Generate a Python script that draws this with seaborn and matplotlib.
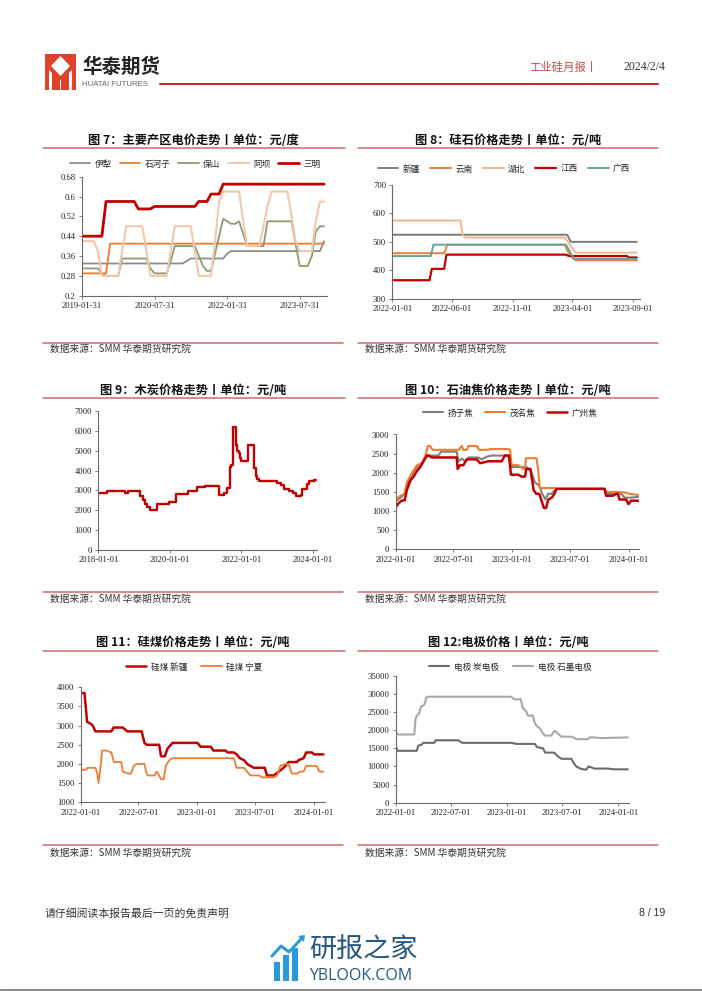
import pandas as pd
import matplotlib.pyplot as plt
import seaborn as sns
from matplotlib.lines import Line2D
from matplotlib.patches import Rectangle, Polygon

W, H = 702, 991
CJK = ['Noto Sans CJK SC', 'DejaVu Sans']
SERIF = 'Liberation Serif'

# ---- 图7 主要产区电价 (monthly, month end) ----
power_months = pd.date_range('2019-01-31', periods=61, freq='ME')
power_yili = [0.33, 0.33, 0.33, 0.33, 0.33, 0.33, 0.33, 0.33, 0.33, 0.33, 0.33, 0.33,
              0.33, 0.33, 0.33, 0.33, 0.33, 0.33, 0.33, 0.33, 0.33, 0.33, 0.33, 0.33,
              0.33, 0.33, 0.34, 0.35, 0.35, 0.35, 0.35, 0.35, 0.35, 0.35, 0.35, 0.35,
              0.37, 0.38, 0.38, 0.38, 0.38, 0.38, 0.38, 0.38, 0.38, 0.38, 0.38, 0.38,
              0.38, 0.38, 0.38, 0.38, 0.38, 0.38, 0.38, 0.38, 0.38, 0.38, 0.38, 0.38,
              0.42]
power_shz = [0.29, 0.29, 0.29, 0.29, 0.29, 0.29, 0.29, 0.41, 0.41, 0.41, 0.41, 0.41,
             0.41, 0.41, 0.41, 0.41, 0.41, 0.41, 0.41, 0.41, 0.41, 0.41, 0.41, 0.41,
             0.41, 0.41, 0.41, 0.41, 0.41, 0.41, 0.41, 0.41, 0.41, 0.41, 0.41, 0.41,
             0.41, 0.41, 0.41, 0.41, 0.41, 0.41, 0.41, 0.41, 0.41, 0.41, 0.41, 0.41,
             0.41, 0.41, 0.41, 0.41, 0.41, 0.41, 0.41, 0.41, 0.41, 0.41, 0.41, 0.41,
             0.41]
power_baoshan = [0.31, 0.31, 0.31, 0.31, 0.31, 0.29, 0.28, 0.28, 0.28, 0.28, 0.35, 0.35,
                 0.35, 0.35, 0.35, 0.35, 0.35, 0.31, 0.29, 0.29, 0.29, 0.29, 0.34, 0.40,
                 0.40, 0.40, 0.40, 0.40, 0.40, 0.36, 0.32, 0.30, 0.30, 0.37, 0.44, 0.51,
                 0.50, 0.49, 0.49, 0.50, 0.45, 0.40, 0.40, 0.40, 0.40, 0.40, 0.50, 0.50,
                 0.50, 0.50, 0.50, 0.50, 0.50, 0.41, 0.32, 0.32, 0.32, 0.36, 0.46, 0.48,
                 0.48]
power_aba = [0.42, 0.42, 0.42, 0.42, 0.38, 0.28, 0.28, 0.28, 0.28, 0.28, 0.38, 0.48,
             0.48, 0.48, 0.48, 0.48, 0.38, 0.28, 0.28, 0.28, 0.28, 0.28, 0.38, 0.48,
             0.48, 0.48, 0.48, 0.48, 0.38, 0.28, 0.28, 0.28, 0.28, 0.42, 0.58, 0.62,
             0.62, 0.62, 0.62, 0.62, 0.50, 0.40, 0.40, 0.40, 0.40, 0.48, 0.56, 0.62,
             0.62, 0.62, 0.62, 0.62, 0.52, 0.42, 0.38, 0.38, 0.38, 0.38, 0.50, 0.58,
             0.58]
power_sanming = [0.44, 0.44, 0.44, 0.44, 0.44, 0.44, 0.58, 0.58, 0.58, 0.58, 0.58, 0.58,
                 0.58, 0.58, 0.55, 0.55, 0.55, 0.55, 0.56, 0.56, 0.56, 0.56, 0.56, 0.56,
                 0.56, 0.56, 0.56, 0.56, 0.56, 0.58, 0.58, 0.58, 0.61, 0.61, 0.61, 0.65,
                 0.65, 0.65, 0.65, 0.65, 0.65, 0.65, 0.65, 0.65, 0.65, 0.65, 0.65, 0.65,
                 0.65, 0.65, 0.65, 0.65, 0.65, 0.65, 0.65, 0.65, 0.65, 0.65, 0.65, 0.65,
                 0.65]

# ---- 图8 硅石价格 ----
silica_xj_dates = ['2022-01-01', '2023-03-19', '2023-03-28', '2023-09-11']
silica_xj = [525, 525, 500, 500]
silica_yn_dates = ['2022-01-01', '2022-05-12', '2022-05-20', '2023-03-13', '2023-03-24', '2023-04-09', '2023-09-11']
silica_yn = [460, 460, 490, 490, 455, 435, 435]
silica_hb_dates = ['2022-01-01', '2022-06-22', '2022-06-28', '2022-07-04', '2023-03-13', '2023-04-09', '2023-09-11']
silica_hb = [575, 575, 525, 515, 515, 462, 462]
silica_jx_dates = ['2022-01-01', '2022-04-05', '2022-04-11', '2022-05-12', '2022-05-18', '2023-03-15',
                   '2023-03-24', '2023-08-17', '2023-08-21', '2023-09-11']
silica_jx = [365, 365, 405, 405, 455, 455, 450, 450, 445, 445]
silica_gx_dates = ['2022-01-01', '2022-04-08', '2022-04-15', '2023-03-16', '2023-04-05', '2023-09-11']
silica_gx = [450, 450, 490, 490, 440, 440]

# ---- 图9 木炭价格 (step changes) ----
charcoal_dates = ['2018-01-01', '2018-04-01', '2018-10-01', '2018-10-28', '2019-03-01', '2019-04-07',
                  '2019-04-24', '2019-05-18', '2019-06-14', '2019-08-25', '2019-12-26', '2020-03-04',
                  '2020-07-01', '2020-10-05', '2020-12-29', '2021-05-15', '2021-07-05', '2021-08-12',
                  '2021-09-05', '2021-09-22', '2021-10-12', '2021-11-05', '2021-11-15', '2021-12-06',
                  '2021-12-20', '2022-01-02', '2022-03-15', '2022-05-08', '2022-06-01', '2022-06-15',
                  '2022-06-29', '2023-01-03', '2023-02-16', '2023-03-12', '2023-05-02', '2023-06-12',
                  '2023-07-16', '2023-09-02', '2023-09-16', '2023-11-03', '2023-11-23', '2024-01-17',
                  '2024-02-06']
charcoal = [2850, 2950, 2850, 2950, 2700, 2500, 2300, 2150, 2000, 2300, 2400, 2800,
            2950, 3150, 3200, 2750, 2850, 3100, 4200, 4300, 6200, 5300, 5000, 4900,
            4650, 4500, 5300, 4150, 3750, 3600, 3500, 3350, 3250, 3050, 2950, 2850,
            2700, 2750, 3050, 3300, 3500, 3550, 3550]

# ---- 图10 石油焦价格 ----
coke_yz_dates = ['2022-01-01', '2022-01-16', '2022-01-29', '2022-02-05', '2022-02-21', '2022-03-09',
                 '2022-03-24', '2022-04-04', '2022-04-14', '2022-05-15', '2022-05-23', '2022-07-11',
                 '2022-07-17', '2022-07-27', '2022-08-06', '2022-08-17', '2022-09-17', '2022-09-27',
                 '2022-10-13', '2022-10-29', '2022-12-20', '2022-12-28', '2023-02-15', '2023-02-28',
                 '2023-03-13', '2023-03-28', '2023-04-05', '2023-04-15', '2023-04-23', '2023-05-04',
                 '2023-05-19', '2023-10-17', '2023-10-22', '2023-12-08', '2023-12-19', '2024-01-08',
                 '2024-01-30']
coke_yz = [1250, 1350, 1450, 1700, 1950, 2150, 2250, 2400, 2450, 2450, 2550, 2550,
           2300, 2370, 2300, 2400, 2400, 2350, 2420, 2450, 2450, 2150, 2150, 2050,
           1750, 1650, 1450, 1300, 1450, 1450, 1580, 1580, 1450, 1450, 1350, 1350, 1370]
coke_mm_dates = ['2022-01-01', '2022-01-16', '2022-01-29', '2022-02-05', '2022-02-21', '2022-03-09',
                 '2022-03-24', '2022-04-04', '2022-04-12', '2022-04-19', '2022-04-26', '2022-07-17',
                 '2022-07-22', '2022-07-27', '2022-08-01', '2022-08-12', '2022-08-17', '2022-09-12',
                 '2022-09-19', '2022-10-18', '2022-10-23', '2022-12-20', '2022-12-25', '2022-12-30',
                 '2023-01-20', '2023-02-04', '2023-02-10', '2023-02-13', '2023-03-18', '2023-03-23',
                 '2023-03-28', '2023-05-14', '2023-05-19', '2023-10-17', '2023-10-22', '2023-11-28',
                 '2023-12-24', '2024-01-03', '2024-01-30']
coke_mm = [1300, 1400, 1450, 1750, 2000, 2200, 2250, 2450, 2700, 2700, 2600, 2600,
           2650, 2700, 2600, 2600, 2700, 2700, 2600, 2600, 2620, 2620, 2600, 2200,
           2200, 2100, 2100, 2380, 2380, 2100, 1600, 1600, 1580, 1580, 1500, 1500,
           1480, 1450, 1420]
coke_gz_dates = ['2022-01-01', '2022-01-10', '2022-01-19', '2022-01-29', '2022-02-05', '2022-02-16',
                 '2022-02-26', '2022-03-09', '2022-03-19', '2022-03-29', '2022-04-09', '2022-04-14',
                 '2022-04-24', '2022-07-11', '2022-07-14', '2022-07-22', '2022-08-01', '2022-08-12',
                 '2022-09-12', '2022-09-22', '2022-10-08', '2022-10-18', '2022-11-29', '2022-12-09',
                 '2022-12-22', '2022-12-28', '2023-01-20', '2023-01-30', '2023-02-10', '2023-02-14',
                 '2023-02-27', '2023-03-09', '2023-03-17', '2023-03-27', '2023-04-10', '2023-04-17',
                 '2023-04-24', '2023-05-05', '2023-05-13', '2023-05-20', '2023-10-17', '2023-10-22',
                 '2023-11-12', '2023-11-23', '2023-11-28', '2023-12-03', '2023-12-24', '2023-12-31',
                 '2024-01-08', '2024-01-30']
coke_gz = [1100, 1200, 1270, 1280, 1550, 1800, 1900, 2050, 2150, 2300, 2450, 2450,
           2400, 2400, 2100, 2200, 2200, 2350, 2350, 2250, 2280, 2300, 2300, 2450,
           2450, 1950, 1950, 1900, 1900, 2100, 2100, 1550, 1450, 1450, 1080, 1080,
           1300, 1350, 1450, 1580, 1580, 1400, 1400, 1450, 1450, 1300, 1300, 1180,
           1270, 1270]

# ---- 图11 硅煤价格 ----
coal_xj_dates = ['2022-01-01', '2022-01-13', '2022-01-21', '2022-02-01', '2022-02-08', '2022-02-16',
                 '2022-04-07', '2022-04-14', '2022-05-13', '2022-05-27', '2022-07-11', '2022-07-20',
                 '2022-07-27', '2022-09-04', '2022-09-10', '2022-09-22', '2022-09-30', '2022-10-16',
                 '2023-01-02', '2023-01-12', '2023-02-13', '2023-02-21', '2023-03-31', '2023-04-06',
                 '2023-04-26', '2023-05-05', '2023-05-15', '2023-05-28', '2023-06-07', '2023-06-17',
                 '2023-06-28', '2023-08-01', '2023-08-08', '2023-08-29', '2023-09-14', '2023-09-29',
                 '2023-10-10', '2023-10-15', '2023-11-10', '2023-11-15', '2023-12-01', '2023-12-09',
                 '2023-12-27', '2024-01-03', '2024-02-01']
coal_xj = [3850, 3850, 3100, 3050, 3000, 2850, 2850, 2950, 2950, 2850, 2850, 2550,
           2500, 2500, 2200, 2200, 2400, 2550, 2550, 2450, 2450, 2350, 2350, 2300,
           2300, 2250, 2150, 2100, 2000, 1950, 1900, 1900, 1700, 1700, 1800, 1900,
           2000, 2050, 2050, 2100, 2150, 2300, 2300, 2250, 2250]
coal_nx_dates = ['2022-01-01', '2022-01-19', '2022-01-22', '2022-02-16', '2022-02-22', '2022-02-26',
                 '2022-03-04', '2022-03-09', '2022-03-22', '2022-04-07', '2022-04-15', '2022-05-08',
                 '2022-05-13', '2022-05-29', '2022-06-08', '2022-06-16', '2022-06-24', '2022-07-20',
                 '2022-07-25', '2022-07-30', '2022-08-20', '2022-08-27', '2022-09-04', '2022-09-10',
                 '2022-09-18', '2022-09-25', '2022-10-06', '2022-10-16', '2023-04-26', '2023-05-05',
                 '2023-05-28', '2023-06-07', '2023-06-17', '2023-07-14', '2023-07-25', '2023-08-29',
                 '2023-09-09', '2023-09-19', '2023-10-05', '2023-10-15', '2023-10-25', '2023-11-10',
                 '2023-11-20', '2023-12-01', '2023-12-09', '2024-01-11', '2024-01-20', '2024-02-01']
coal_nx = [1850, 1850, 1900, 1900, 1750, 1500, 1900, 2350, 2350, 2300, 2050, 2050,
           1800, 1750, 1750, 1950, 2000, 2000, 1800, 1700, 1700, 1800, 1700, 1600,
           1600, 1950, 2100, 2150, 2150, 1900, 1900, 1800, 1700, 1700, 1650, 1650,
           1700, 1950, 2000, 2000, 1750, 1750, 1800, 1800, 1950, 1950, 1800, 1800]

# ---- 图12 电极价格 ----
elec_gr_dates = ['2022-01-01', '2022-01-09', '2022-03-03', '2022-03-07', '2022-03-11', '2022-03-18',
                 '2022-03-25', '2022-04-05', '2022-04-12', '2023-01-15', '2023-01-24', '2023-02-15',
                 '2023-02-22', '2023-03-02', '2023-03-11', '2023-03-27', '2023-04-02', '2023-04-10',
                 '2023-04-19', '2023-04-29', '2023-05-06', '2023-05-26', '2023-06-06', '2023-06-11',
                 '2023-06-28', '2023-07-31', '2023-08-19', '2023-09-23', '2023-09-28', '2023-10-15',
                 '2023-11-06', '2023-12-19', '2024-02-01']
elec_gr = [19500, 18800, 18800, 23000, 24000, 24500, 26500, 27000, 29200, 29200, 28500,
           28500, 26000, 25500, 24000, 24000, 22000, 21000, 20500, 19000, 18500, 18500,
           19800, 19500, 18200, 18200, 17500, 17500, 18000, 18000, 17800, 17900, 18000]
elec_c_dates = ['2022-01-01', '2022-01-07', '2022-03-11', '2022-03-16', '2022-03-27', '2022-04-01',
                '2022-05-07', '2022-05-12', '2022-07-25', '2022-08-07', '2023-01-15', '2023-02-01',
                '2023-04-02', '2023-04-10', '2023-04-29', '2023-05-06', '2023-06-04', '2023-06-17',
                '2023-06-28', '2023-07-31', '2023-08-07', '2023-08-16', '2023-09-01', '2023-09-18',
                '2023-09-25', '2023-10-02', '2023-10-15', '2023-11-27', '2023-12-19', '2024-02-01']
elec_c = [15700, 14300, 14300, 15700, 16000, 16500, 16500, 17200, 17200, 16500, 16500,
          16200, 16200, 15300, 15000, 13800, 13800, 12800, 12100, 12100, 11000, 10000,
          9300, 9100, 10000, 9800, 9400, 9400, 9200, 9200]

ticks_2022 = ['2022-01-01', '2022-07-01', '2023-01-01', '2023-07-01', '2024-01-01']

sns.set_theme(style='white')
plt.rcParams['font.family'] = CJK
plt.rcParams['axes.unicode_minus'] = False

fig = plt.figure(figsize=(W / 100, H / 100), dpi=100)
fig.patch.set_facecolor('white')


def fx(x):
    return x / W


def fy(y):
    return 1 - y / H


def add_ax(x0, y0, x1, y1):
    return fig.add_axes([fx(x0), fy(y1), (x1 - x0) / W, (y1 - y0) / H])


def hline(x0, x1, y, color='#d0686b', lw=1.1):
    fig.add_artist(Line2D([fx(x0), fx(x1)], [fy(y), fy(y)], transform=fig.transFigure,
                          color=color, lw=lw))


def draw(ax, dates, values, color, lw, label=None, **kw):
    sns.lineplot(x=pd.to_datetime(dates), y=values, ax=ax, color=color, linewidth=lw,
                 label=label, **kw)


def style(ax, xlim, xticks, yticks, ylabels=None):
    ax.set_xlim(pd.Timestamp(xlim[0]), pd.Timestamp(xlim[1]))
    ax.set_ylim(yticks[0], yticks[-1])
    ax.set_xticks(pd.to_datetime(xticks), xticks, fontfamily=SERIF, fontsize=6.2)
    ax.set_yticks(yticks, ylabels if ylabels else [str(v) for v in yticks],
                  fontfamily=SERIF, fontsize=6.2)
    ax.set_xlabel('')
    ax.set_ylabel('')
    ax.set_facecolor('none')
    for s in ('top', 'right'):
        ax.spines[s].set_visible(False)
    for s in ('left', 'bottom'):
        ax.spines[s].set_color('#6a6a6a')
        ax.spines[s].set_linewidth(0.8)
    ax.tick_params(axis='both', length=2.5, width=0.6, color='#6a6a6a', pad=2,
                   labelcolor='#222222', direction='out', bottom=True, left=True)


def legend(ax, cx, cy, ncol, spacing=1.4):
    ax.legend(loc='center', bbox_to_anchor=(fx(cx), fy(cy)), bbox_transform=fig.transFigure,
              ncol=ncol, frameon=False, prop={'family': CJK, 'size': 6.2},
              handlelength=2.4, handletextpad=0.5, columnspacing=spacing, borderpad=0)


def title(cx, cy, text):
    fig.text(fx(cx), fy(cy), text, ha='center', va='center', fontsize=8.8,
             fontweight='bold', color='#111111', family=CJK)


def source(x, y):
    fig.text(fx(x), fy(y), '数据来源：SMM 华泰期货研究院', ha='left', va='center',
             fontsize=7, color='#333333', family=CJK)


# ---------- header ----------
fig.add_artist(Rectangle((fx(45), fy(90)), 31 / W, 36 / H, transform=fig.transFigure,
                         color='#e0412b', lw=0))
fig.add_artist(Polygon([(fx(60.5), fy(56)), (fx(70), fy(66)), (fx(60.5), fy(76)), (fx(51), fy(66))],
                       closed=True, transform=fig.transFigure, color='white', lw=0))
fig.add_artist(Polygon([(fx(49), fy(70)), (fx(52), fy(73)), (fx(52), fy(90)), (fx(49), fy(90))],
                       closed=True, transform=fig.transFigure, color='white', lw=0))
fig.add_artist(Polygon([(fx(72), fy(70)), (fx(69), fy(73)), (fx(69), fy(90)), (fx(72), fy(90))],
                       closed=True, transform=fig.transFigure, color='white', lw=0))
fig.add_artist(Rectangle((fx(59.5), fy(90)), 2 / W, 10 / H, transform=fig.transFigure,
                         color='white', lw=0))
fig.text(fx(82), fy(67), '华泰期货', ha='left', va='center', fontsize=14, fontweight='bold',
         color='#222222', family=CJK)
fig.text(fx(82), fy(84), 'HUATAI FUTURES', ha='left', va='center', fontsize=5.6,
         color='#666666', family=['Liberation Sans', 'DejaVu Sans'])
fig.text(fx(598), fy(67), '工业硅月报丨', ha='right', va='center', fontsize=8.2,
         color='#c9474a', family=CJK)
fig.text(fx(665), fy(67), '2024/2/4', ha='right', va='center', fontsize=8.5,
         color='#333333', family=SERIF)
hline(160, 658, 84, color='#cc1f1f', lw=1.4)

# ---------- 图7 ----------
ax7 = add_ax(82, 176.7, 326.7, 295.7)
draw(ax7, power_months, power_yili, '#8c8c8c', 1.3, '伊犁')
draw(ax7, power_months, power_shz, '#ec7c30', 1.3, '石河子')
draw(ax7, power_months, power_baoshan, '#8e9a74', 1.3, '保山')
draw(ax7, power_months, power_aba, '#f3c8ab', 1.5, '阿坝')
draw(ax7, power_months, power_sanming, '#c00000', 2.0, '三明')
style(ax7, ('2019-01-31', '2024-02-20'), ['2019-01-31', '2020-07-31', '2022-01-31', '2023-07-31'],
      [0.2, 0.28, 0.36, 0.44, 0.52, 0.6, 0.68], ['0.2', '0.28', '0.36', '0.44', '0.52', '0.6', '0.68'])
legend(ax7, 195, 164, 5, spacing=0.9)
title(193, 140, '图 7：主要产区电价走势丨单位：元/度')
hline(43, 345, 148)

# ---------- 图8 ----------
ax8 = add_ax(392.3, 185, 640, 298.7)
draw(ax8, silica_xj_dates, silica_xj, '#7a7a7a', 1.4, '新疆')
draw(ax8, silica_yn_dates, silica_yn, '#e8823a', 1.4, '云南')
draw(ax8, silica_hb_dates, silica_hb, '#f5b490', 1.4, '湖北')
draw(ax8, silica_jx_dates, silica_jx, '#c00000', 1.6, '江西')
draw(ax8, silica_gx_dates, silica_gx, '#5fa59c', 1.4, '广西')
style(ax8, ('2022-01-01', '2023-09-19'),
      ['2022-01-01', '2022-06-01', '2022-11-01', '2023-04-01', '2023-09-01'],
      [300, 400, 500, 600, 700])
legend(ax8, 504, 169, 5, spacing=1.2)
title(508, 140, '图 8：硅石价格走势丨单位：元/吨')
hline(358, 658, 148)

# ---------- 图9 ----------
ax9 = add_ax(98.3, 411, 316.7, 550)
draw(ax9, charcoal_dates, charcoal, '#c00000', 1.7, drawstyle='steps-post')
style(ax9, ('2018-01-01', '2024-02-11'), ['2018-01-01', '2020-01-01', '2022-01-01', '2024-01-01'],
      [0, 1000, 2000, 3000, 4000, 5000, 6000, 7000])
title(193, 390, '图 9：木炭价格走势丨单位：元/吨')
hline(43, 345, 398)

# ---------- 图10 ----------
ax10 = add_ax(395.7, 434.5, 639, 549.3)
draw(ax10, coke_yz_dates, coke_yz, '#7f7f7f', 1.5, '扬子焦')
draw(ax10, coke_mm_dates, coke_mm, '#ed7d31', 1.5, '茂名焦')
draw(ax10, coke_gz_dates, coke_gz, '#c00000', 1.8, '广州焦')
style(ax10, ('2022-01-01', '2024-02-02'), ticks_2022, [0, 500, 1000, 1500, 2000, 2500, 3000])
legend(ax10, 510, 413, 3, spacing=1.3)
title(508, 390, '图 10：石油焦价格走势丨单位：元/吨')
hline(358, 658, 398)

# ---------- 图11 ----------
ax11 = add_ax(80.7, 687.3, 325, 802.3)
draw(ax11, coal_xj_dates, coal_xj, '#c00000', 1.8, '硅煤 新疆')
draw(ax11, coal_nx_dates, coal_nx, '#ed7d31', 1.3, '硅煤 宁夏')
style(ax11, ('2022-01-01', '2024-02-06'), ticks_2022, [1000, 1500, 2000, 2500, 3000, 3500, 4000])
legend(ax11, 194, 667, 2, spacing=1.6)
title(193, 642, '图 11：硅煤价格走势丨单位：元/吨')
hline(43, 345, 651)

# ---------- 图12 ----------
ax12 = add_ax(395.7, 675.7, 629, 802.7)
draw(ax12, elec_c_dates, elec_c, '#6b6b6b', 1.5, '电极 炭电极')
draw(ax12, elec_gr_dates, elec_gr, '#a8a8a8', 1.5, '电极 石墨电极')
style(ax12, ('2022-01-01', '2024-02-05'), ticks_2022,
      [0, 5000, 10000, 15000, 20000, 25000, 30000, 35000])
legend(ax12, 510, 667, 2, spacing=1.6)
title(508, 643, '图 12:电极价格丨单位：元/吨')
hline(358, 658, 651)

# ---------- sources ----------
for y_line, y_text in [(343, 349), (592, 599), (845, 853)]:
    hline(43, 343, y_line)
    hline(358, 658, y_line)
    source(50, y_text)
    source(365, y_text)

# ---------- footer ----------
fig.text(fx(45), fy(913), '请仔细阅读本报告最后一页的免责声明', ha='left', va='center',
         fontsize=7.8, color='#333333', family=CJK)
fig.text(fx(665), fy(913), '8 / 19', ha='right', va='center', fontsize=7.6,
         color='#333333', family=['Liberation Sans', 'DejaVu Sans'])

# watermark logo
for bx, top in [(274, 962), (283, 955), (292, 948)]:
    fig.add_artist(Rectangle((fx(bx), fy(981)), 6 / W, (981 - top) / H,
                             transform=fig.transFigure, color='#2c9ad8', lw=0))
fig.add_artist(Line2D([fx(272), fx(281), fx(289), fx(302)], [fy(956), fy(946), fy(952), fy(938)],
                      transform=fig.transFigure, color='#2c9ad8', lw=2.2))
fig.add_artist(Polygon([(fx(298), fy(936)), (fx(305), fy(935)), (fx(304), fy(942))], closed=True,
                       transform=fig.transFigure, color='#2c9ad8', lw=0))
fig.text(fx(309), fy(949), '研报之家', ha='left', va='center', fontsize=19.5,
         color='#25577f', family=CJK)
fig.text(fx(309), fy(976), 'YBLOOK.COM', ha='left', va='center', fontsize=11.5,
         color='#25577f', family=['Open Sans', 'DejaVu Sans'])
hline(0, 702, 989.5, color='#8a8a8a', lw=2.2)

fig.savefig('out.png', dpi=100, facecolor='white')
